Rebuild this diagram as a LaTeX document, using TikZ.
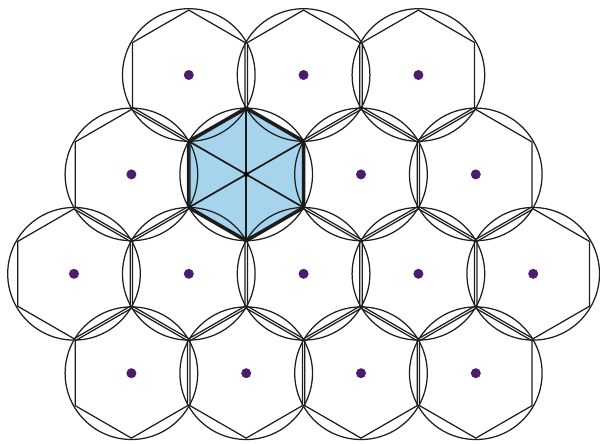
\documentclass[tikz,border=0pt]{standalone}
\usetikzlibrary{calc}
\definecolor{cellblue}{RGB}{166,212,236}
\definecolor{dotpurple}{RGB}{76,28,110}
\definecolor{ink}{RGB}{30,30,30}
\begin{document}
\begin{tikzpicture}[x=1pt,y=-1pt,
  cellline/.style={draw=ink, line width=1.25pt},
  boldline/.style={draw=black!90, line width=1.7pt},
  sitedot/.style={circle, fill=dotpurple, inner sep=0pt, minimum size=10pt},
  centerdot/.style={circle, fill=black, inner sep=0pt, minimum size=5pt}]
\useasboundingbox (0,0) rectangle (600,444);
\def\dd{114.8}
\def\R{66.3}
\def\r{64.9}
\foreach \row/\xs/\n/\y in {1/188.8/3/75, 2/131.4/4/174.4, 3/74/5/273.8, 4/131.4/4/373.2}{
  \foreach \k in {1,...,\n}{
    \coordinate (c\row\k) at ({\xs+(\k-1)*\dd},\y);
  }
}
% highlighted cell fill
\fill[cellblue] ([shift={(90:\R)}]c22) -- ([shift={(150:\R)}]c22) -- ([shift={(210:\R)}]c22)
  -- ([shift={(270:\R)}]c22) -- ([shift={(330:\R)}]c22) -- ([shift={(30:\R)}]c22) -- cycle;
% circles and hexagons
\foreach \row/\n in {1/3, 2/4, 3/5, 4/4}{
  \foreach \k in {1,...,\n}{
    \draw[cellline] (c\row\k) circle[radius=\R];
    \draw[cellline] ([shift={(90:\r)}]c\row\k) -- ([shift={(150:\r)}]c\row\k) -- ([shift={(210:\r)}]c\row\k)
      -- ([shift={(270:\r)}]c\row\k) -- ([shift={(330:\r)}]c\row\k) -- ([shift={(30:\r)}]c\row\k) -- cycle;
  }
}
% highlighted hexagon outline and spokes
\draw[boldline, line join=round] ([shift={(90:\R)}]c22) -- ([shift={(150:\R)}]c22) -- ([shift={(210:\R)}]c22)
  -- ([shift={(270:\R)}]c22) -- ([shift={(330:\R)}]c22) -- ([shift={(30:\R)}]c22) -- cycle;
\foreach \a in {30,90,150}{
  \draw[boldline] ([shift={(\a:\R)}]c22) -- ([shift={(\a+180:\R)}]c22);
}
\node[centerdot] (ctr) at (c22) {};
% lattice site dots
\foreach \row/\n in {1/3, 2/4, 3/5, 4/4}{
  \foreach \k in {1,...,\n}{
    \ifnum\row\k=22\relax\else
      \node[sitedot] (d\row\k) at (c\row\k) {};
    \fi
  }
}
\end{tikzpicture}
\end{document}
